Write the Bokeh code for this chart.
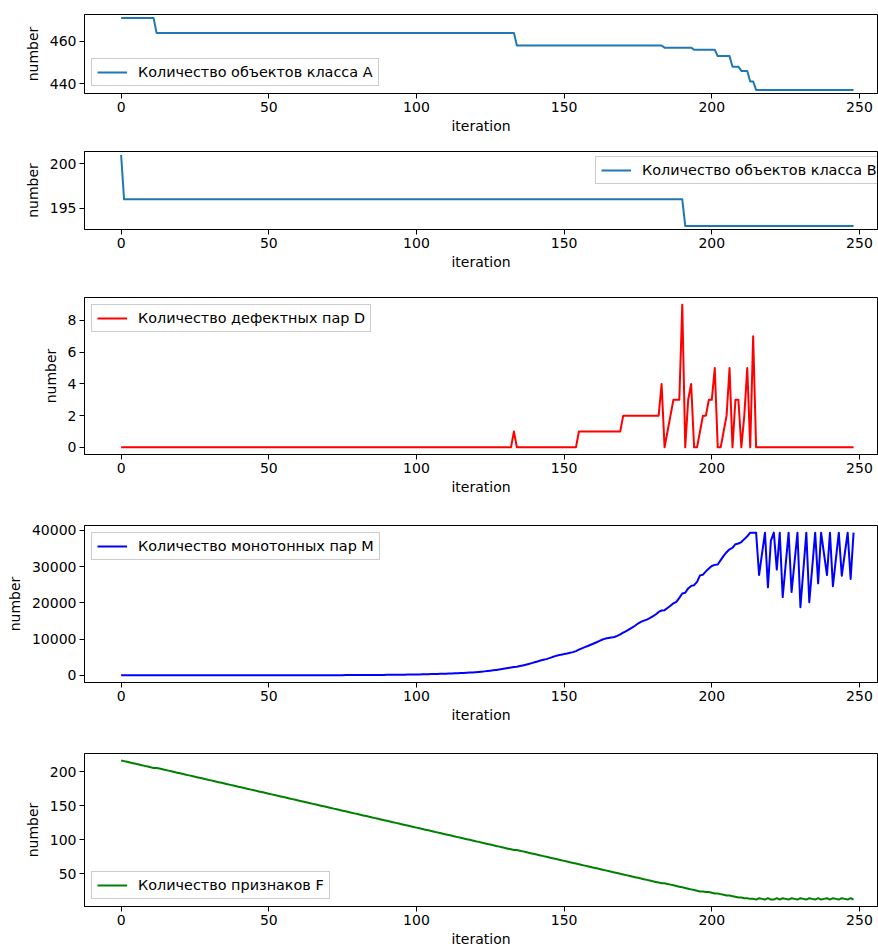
from bokeh.plotting import figure
from bokeh.layouts import column
from bokeh.models import Range1d, FixedTicker, Legend
from bokeh.embed import file_html
from bokeh.resources import INLINE

# ---------------- data ----------------
iteration = list(range(249))

X_TICKS = [0, 50, 100, 150, 200, 250]

A_TICKS = [440, 460]
A_values = ([471] * 12 + [464] * 122 + [458] * 50 + [457] * 10 + [456] * 8 +
            [453] * 5 + [448] * 3 + [446] * 3 + [441] * 2 + [437] * 34)

B_TICKS = [195, 200]
B_values = [201] + [196] * 190 + [193] * 58

D_TICKS = [0, 2, 4, 6, 8]
D_values = ([0] * 133 + [1] + [0] * 21 + [1] * 15 + [2] * 13 +
            [4, 0, 1, 2, 3, 3, 3, 9, 0, 3, 4, 0, 0, 1, 2, 2, 3, 3, 5, 0, 0, 1, 2, 5,
             0, 3, 3, 0, 2, 5, 0, 7] + [0] * 34)

M_TICKS = [0, 10000, 20000, 30000, 40000]
M_values = [
    0, 0, 0, 1, 1, 1, 1, 2, 2, 2,
    2, 3, 3, 3, 4, 4, 4, 5, 5, 5,
    6, 6, 7, 7, 7, 8, 8, 9, 9, 10,
    10, 11, 11, 12, 12, 13, 13, 14, 15, 15,
    16, 17, 17, 18, 19, 20, 20, 21, 22, 23,
    24, 25, 26, 27, 28, 29, 30, 31, 33, 34,
    35, 37, 38, 40, 41, 43, 45, 46, 48, 50,
    52, 54, 57, 59, 62, 64, 67, 70, 73, 76,
    80, 84, 88, 92, 97, 102, 108, 114, 120, 127,
    135, 143, 152, 161, 171, 182, 194, 207, 221, 236,
    252, 269, 287, 306, 326, 347, 370, 394, 420, 447,
    475, 505, 537, 570, 605, 642, 680, 720, 762, 806,
    880, 950, 1020, 1100, 1190, 1290, 1390, 1500, 1620, 1750,
    1880, 2020, 2170, 2330, 2380, 2560, 2750, 2950, 3160, 3380,
    3610, 3850, 4100, 4300, 4480, 4750, 5050, 5300, 5550, 5720,
    5870, 6050, 6250, 6420, 6700, 7100, 7450, 7800, 8100, 8450,
    8800, 9150, 9500, 9900, 10150, 10300, 10450, 10600, 10900, 11300,
    11800, 12200, 12700, 13200, 13700, 14300, 14750, 15100, 15400, 15800,
    16300, 16800, 17500, 17900, 18000, 18600, 19200, 19900, 20300, 21400,
    22600, 22800, 24000, 24700, 24900, 25800, 27600, 27800, 28700, 29500,
    30200, 30500, 30600, 31800, 33000, 34000, 34800, 35200, 36200, 36400,
    36800, 37600, 38400, 39400, 39400, 39400, 27700, 33600, 39400, 24300,
    37200, 39400, 29200, 39400, 21600, 30500, 39400, 23000, 31200, 39400,
    18800, 29100, 39400, 20200, 29800, 39400, 25400, 39400, 33500, 27700,
    39400, 24600, 32000, 39400, 27500, 33500, 39400, 26600, 39400,
]

F_TICKS = [50, 100, 150, 200]
F_values = [
    217, 216, 215, 214, 213, 212, 211, 210, 209, 208, 207, 206,
    206,
    205, 204, 203, 202, 201, 200, 199,
    198, 197, 196, 195, 194, 193, 192, 191, 190, 189,
    188, 187, 186, 185, 184, 183, 182, 181, 180, 179,
    178, 177, 176, 175, 174, 173, 172, 171, 170, 169,
    168, 167, 166, 165, 164, 163, 162, 161, 160, 159,
    158, 157, 156, 155, 154, 153, 152, 151, 150, 149,
    148, 147, 146, 145, 144, 143, 142, 141, 140, 139,
    138, 137, 136, 135, 134, 133, 132, 131, 130, 129,
    128, 127, 126, 125, 124, 123, 122, 121, 120, 119,
    118, 117, 116, 115, 114, 113, 112, 111, 110, 109,
    108, 107, 106, 105, 104, 103, 102, 101, 100, 99,
    98, 97, 96, 95, 94, 93, 92, 91, 90, 89,
    88, 87, 86, 85,
    85,
    84, 83, 82, 81, 80,
    79, 78, 77, 76, 75, 74, 73, 72, 71, 70,
    69, 68, 67, 66, 65, 64, 63, 62, 61, 60,
    59, 58, 57, 56, 55, 54, 53, 52, 51, 50,
    49, 48, 47, 46, 45, 44, 43, 42, 41, 40,
    39, 38, 37, 36,
    36,
    35, 34, 33, 32, 31, 30,
    29, 28, 27, 26, 25, 24, 24, 23, 23, 22, 21, 21, 20, 19, 18, 18, 17,
    16, 15, 15, 14, 14, 13, 13, 12,
    14, 13, 12, 14, 12, 12, 14, 12, 14, 13, 12, 14, 13, 12, 14, 13, 12,
    14, 13, 12, 14, 12, 13, 14, 12, 14, 13, 12, 14, 13, 12, 14, 12,
]

LABEL_A = "Количество объектов класса A"
LABEL_B = "Количество объектов класса B"
LABEL_D = "Количество дефектных пар D"
LABEL_M = "Количество монотонных пар M"
LABEL_F = "Количество признаков F"

# ---------------- styling ----------------
FONT = "DejaVu Sans"
FS = "14px"
LEG_FS = "14.4px"


def make(y, color, label, yticks, loc, height, top):
    p = figure(width=878, height=height, x_range=Range1d(-12.4, 256.1),
               output_backend="svg", toolbar_location=None,
               min_border_left=84, min_border_right=1,
               min_border_top=top, min_border_bottom=44)
    r = p.line(iteration, y, line_color=color, line_width=2, line_join="round")
    p.grid.grid_line_color = None
    p.outline_line_color = "black"
    p.outline_line_alpha = 1
    p.outline_line_width = 1
    p.xaxis.ticker = FixedTicker(ticks=X_TICKS)
    p.yaxis.ticker = FixedTicker(ticks=yticks)
    p.xaxis.axis_label = "iteration"
    p.yaxis.axis_label = "number"
    for ax in (p.xaxis[0], p.yaxis[0]):
        ax.major_tick_out = 5
        ax.major_tick_in = 0
        ax.minor_tick_out = 0
        ax.minor_tick_in = 0
        ax.axis_line_color = "black"
        ax.major_tick_line_color = "black"
        ax.major_label_text_font = FONT
        ax.major_label_text_font_size = FS
        ax.major_label_text_color = "black"
        ax.axis_label_text_font = FONT
        ax.axis_label_text_font_size = FS
        ax.axis_label_text_font_style = "normal"
        ax.axis_label_text_color = "black"
        ax.major_label_standoff = 3
        ax.axis_label_standoff = 3
    p.yaxis[0].axis_label_standoff = 6
    leg = Legend(items=[(label, [r])], location=loc)
    leg.label_text_font = FONT
    leg.label_text_font_size = LEG_FS
    leg.label_text_color = "black"
    leg.border_line_color = "#cccccc"
    leg.border_line_alpha = 1
    leg.background_fill_color = "white"
    leg.background_fill_alpha = 0.8
    leg.padding = 5
    leg.spacing = 0
    leg.margin = 7
    leg.glyph_width = 30
    leg.glyph_height = 16
    leg.label_height = 16
    leg.label_standoff = 11
    p.add_layout(leg)
    return p


pA = make(A_values, "#1f77b4", LABEL_A, A_TICKS, "bottom_left", 137, 14)
pB = make(B_values, "#1f77b4", LABEL_B, B_TICKS, (511, 45), 136, 14)
pD = make(D_values, "#ff0000", LABEL_D, D_TICKS, "top_left", 225, 24)
pM = make(M_values, "#0000ff", LABEL_M, M_TICKS, "top_left", 228, 27)
pF = make(F_values, "#008000", LABEL_F, F_TICKS, "bottom_left", 224, 27)

layout = column(pA, pB, pD, pM, pF, spacing=0)

with open("out.html", "w", encoding="utf-8") as fh:
    fh.write(file_html(layout, INLINE))
